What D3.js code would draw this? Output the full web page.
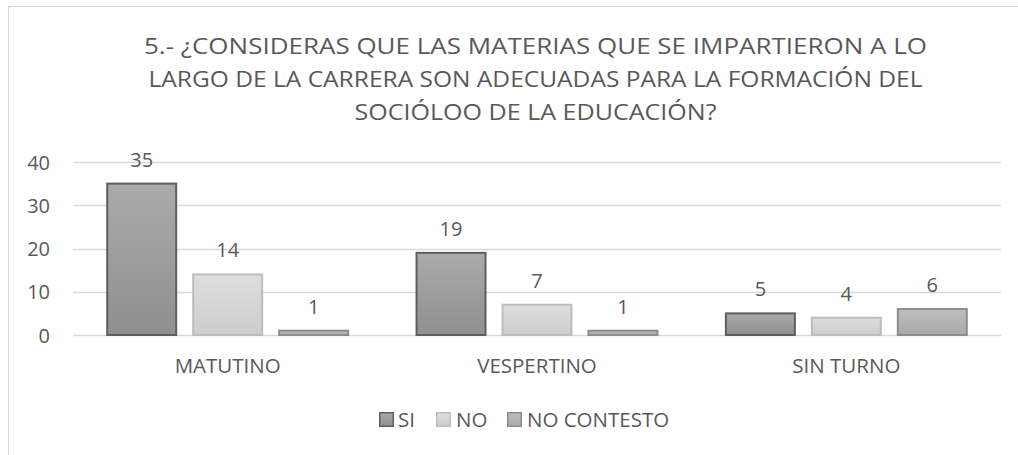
<!DOCTYPE html>
<html>
<head>
<meta charset="utf-8">
<script src="https://cdn.jsdelivr.net/npm/d3@7"></script>
<style>
  html, body { margin: 0; padding: 0; background: #fff; }
  svg { display: block; font-family: "Open Sans", "Noto Sans", sans-serif; }
</style>
</head>
<body>
<svg id="chart" width="1018" height="455"></svg>
<script>
// Survey answers per shift
const categories = ["MATUTINO", "VESPERTINO", "SIN TURNO"];
const seriesNames = ["SI", "NO", "NO CONTESTO"];
const valuesSI = [35, 19, 5];
const valuesNO = [14, 7, 4];
const valuesNC = [1, 1, 6];
const yTicks = [0, 10, 20, 30, 40];
const titleLines = [
  "5.- ¿CONSIDERAS QUE LAS MATERIAS QUE SE IMPARTIERON A LO",
  "LARGO DE LA CARRERA SON ADECUADAS PARA LA FORMACIÓN DEL",
  "SOCIÓLOO DE LA EDUCACIÓN?"
];

const seriesValues = [valuesSI, valuesNO, valuesNC];
const styles = [
  { top: "#ababab", bottom: "#8f8f8f", stroke: "#5e5e5e" },
  { top: "#dedede", bottom: "#cdcdcd", stroke: "#bdbdbd" },
  { top: "#bebebe", bottom: "#a9a9a9", stroke: "#8c8c8c" }
];
const textColor = "#595959";
const labelSize = 20;

const svg = d3.select("#chart");

// Chart area border
svg.append("rect")
  .attr("x", 8.5).attr("y", 6.5)
  .attr("width", 1030).attr("height", 470)
  .attr("fill", "#fff").attr("stroke", "#d9d9d9").attr("stroke-width", 1);

const defs = svg.append("defs");
styles.forEach((s, i) => {
  const g = defs.append("linearGradient")
    .attr("id", "grad" + i).attr("x1", 0).attr("y1", 0).attr("x2", 0).attr("y2", 1);
  g.append("stop").attr("offset", "0%").attr("stop-color", s.top);
  g.append("stop").attr("offset", "100%").attr("stop-color", s.bottom);
});

// Title, condensed to the chart's title width
svg.append("g").selectAll("text").data(titleLines).join("text")
  .attr("x", 535.5).attr("y", (d, i) => 54 + i * 33)
  .attr("text-anchor", "middle")
  .attr("fill", textColor)
  .attr("font-size", 22.5)
  .attr("textLength", (d, i) => [783, 774, 362][i])
  .attr("lengthAdjust", "spacingAndGlyphs")
  .text(d => d);

const plot = { left: 73, right: 1001, top: 162, bottom: 335 };

const x0 = d3.scaleBand().domain(categories)
  .range([plot.left, plot.right]).paddingInner(0.218).paddingOuter(0.109);
const x1 = d3.scaleBand().domain(seriesNames)
  .range([0, x0.bandwidth()]).paddingInner(0.186);
const y = d3.scaleLinear().domain([0, 40]).range([plot.bottom, plot.top]);

// Gridlines
svg.append("g").selectAll("line").data(yTicks).join("line")
  .attr("x1", plot.left).attr("x2", plot.right)
  .attr("y1", d => Math.round(y(d)) + 0.5).attr("y2", d => Math.round(y(d)) + 0.5)
  .attr("stroke", "#d9d9d9").attr("stroke-width", 1.3);

// Y axis labels
const yAxis = d3.axisLeft(y).tickValues(yTicks).tickSize(0).tickPadding(0);
const yg = svg.append("g").attr("transform", `translate(${plot.left - 23},0)`).call(yAxis);
yg.select(".domain").remove();
yg.selectAll("text").attr("fill", textColor).attr("font-size", labelSize)
  .attr("font-family", "\"Open Sans\", sans-serif").attr("dy", "0.36em");

// X axis labels
const xAxis = d3.axisBottom(x0).tickSize(0).tickPadding(0);
const xg = svg.append("g").attr("transform", `translate(0,${plot.bottom})`).call(xAxis);
xg.select(".domain").remove();
xg.selectAll("text").attr("fill", textColor).attr("font-size", 20.5)
  .attr("font-family", "\"Open Sans\", sans-serif").attr("dy", null).attr("y", 38);

// Bars
const groups = svg.append("g").selectAll("g").data(categories).join("g")
  .attr("transform", d => `translate(${x0(d)},0)`);

groups.selectAll("rect")
  .data((c, ci) => seriesNames.map((s, si) => ({ s, si, v: seriesValues[si][ci] })))
  .join("rect")
  .attr("x", d => x1(d.s) + 0.5)
  .attr("y", d => y(d.v))
  .attr("width", x1.bandwidth() - 1)
  .attr("height", d => y(0) - y(d.v))
  .attr("fill", d => `url(#grad${d.si})`)
  .attr("stroke", d => styles[d.si].stroke)
  .attr("stroke-width", 2);

// Value labels
groups.selectAll("text.val")
  .data((c, ci) => seriesNames.map((s, si) => ({ s, si, v: seriesValues[si][ci] })))
  .join("text").attr("class", "val")
  .attr("x", d => x1(d.s) + x1.bandwidth() / 2)
  .attr("y", d => y(d.v) - 17)
  .attr("text-anchor", "middle")
  .attr("fill", textColor).attr("font-size", labelSize)
  .text(d => d.v);

// Legend
const legendItems = [
  { name: "SI", sx: 379, tx: 398 },
  { name: "NO", sx: 436, tx: 456 },
  { name: "NO CONTESTO", sx: 507, tx: 527 }
];
const lg = svg.append("g").selectAll("g").data(legendItems).join("g");
lg.append("rect")
  .attr("x", d => d.sx + 0.75).attr("y", 412.75).attr("width", 13.5).attr("height", 13.5)
  .attr("fill", (d, i) => `url(#grad${i})`)
  .attr("stroke", (d, i) => styles[i].stroke).attr("stroke-width", 1.5);
lg.append("text")
  .attr("x", d => d.tx).attr("y", 427)
  .attr("fill", textColor).attr("font-size", 20.5)
  .text(d => d.name);
</script>
</body>
</html>
